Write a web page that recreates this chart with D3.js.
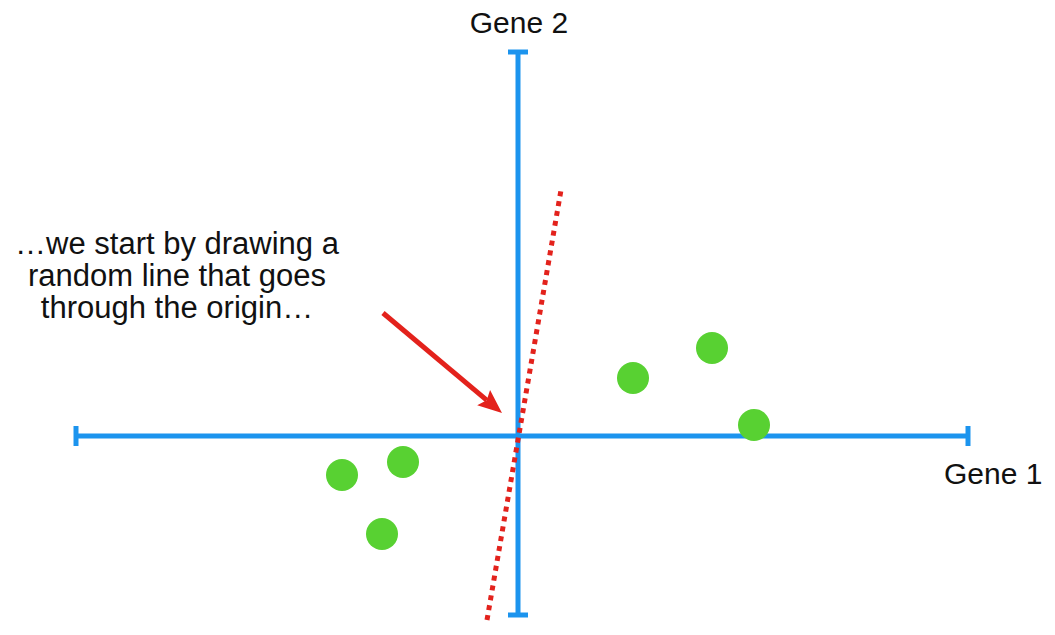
<!DOCTYPE html>
<html>
<head>
<meta charset="utf-8">
<script src="https://cdn.jsdelivr.net/npm/d3@7"></script>
<style>
  html, body { margin: 0; padding: 0; background: #fff; }
  svg { display: block; }
  text { font-family: "Helvetica Neue", "Liberation Sans", Arial, sans-serif; fill: #111; }
</style>
</head>
<body>
<svg id="chart" width="1055" height="635"></svg>
<script>
// ---- data (in gene units, origin at 0,0) ----
const xDomain = [-4.42, 4.50];
const yDomain = [-1.79, 3.84];
const axisLabels = ["Gene 1", "Gene 2"];
const pointX = [-1.76, -1.15, -1.36, 1.15, 1.94, 2.36];
const pointY = [-0.39, -0.26, -0.98, 0.58, 0.88, 0.11];
const lineX = [-0.31, 0.43];   // random line through the origin
const lineY = [-1.84, 2.46];
const arrowX = [-1.35, -0.16];
const arrowY = [1.23, 0.23];
const noteLines = ["\u2026we start by drawing a", "random line that goes", "through the origin\u2026"];

const svg = d3.select("#chart");
const x = d3.scaleLinear().domain(xDomain).range([76, 968]);
const y = d3.scaleLinear().domain(yDomain).range([615, 52]);

const blue = "#1c94ee";
const green = "#58d132";
const red = "#e3221c";

// axes
const g = svg.append("g");
const x0 = x(0), y0 = y(0);
g.append("line").attr("x1", x.range()[0]).attr("x2", x.range()[1])
  .attr("y1", y0).attr("y2", y0)
  .attr("stroke", blue).attr("stroke-width", 5);
g.append("line").attr("x1", x0).attr("x2", x0)
  .attr("y1", y.range()[0]).attr("y2", y.range()[1])
  .attr("stroke", blue).attr("stroke-width", 5);
// end caps
x.range().forEach(px => g.append("line").attr("x1", px).attr("x2", px)
  .attr("y1", y0 - 10).attr("y2", y0 + 10).attr("stroke", blue).attr("stroke-width", 5));
y.range().forEach(py => g.append("line").attr("x1", x0 - 10).attr("x2", x0 + 10)
  .attr("y1", py).attr("y2", py).attr("stroke", blue).attr("stroke-width", 5));

// axis labels
svg.append("text").attr("x", x.range()[1] - 24).attr("y", y0 + 48)
  .attr("font-size", 30).text(axisLabels[0]);
svg.append("text").attr("x", x0 + 1).attr("y", y.range()[1] - 19)
  .attr("text-anchor", "middle").attr("font-size", 30).text(axisLabels[1]);

// points
svg.selectAll("circle.pt").data(pointX.map((v, i) => [v, pointY[i]]))
  .enter().append("circle").attr("class", "pt")
  .attr("cx", d => x(d[0])).attr("cy", d => y(d[1])).attr("r", 16)
  .attr("fill", green);

// dotted red line
svg.append("line")
  .attr("x1", x(lineX[0])).attr("y1", y(lineY[0]))
  .attr("x2", x(lineX[1])).attr("y2", y(lineY[1]))
  .attr("stroke", red).attr("stroke-width", 5)
  .attr("stroke-dasharray", "5,5");

// arrow
const ax1 = x(arrowX[0]), ay1 = y(arrowY[0]);
const ax2 = x(arrowX[1]), ay2 = y(arrowY[1]);
const ang = Math.atan2(ay2 - ay1, ax2 - ax1);
const headLen = 24, headHalf = 10;
const bx = ax2 - headLen * Math.cos(ang), by = ay2 - headLen * Math.sin(ang);
svg.append("line").attr("x1", ax1).attr("y1", ay1)
  .attr("x2", bx + 4 * Math.cos(ang)).attr("y2", by + 4 * Math.sin(ang))
  .attr("stroke", red).attr("stroke-width", 5);
svg.append("path")
  .attr("d", `M${ax2},${ay2} L${bx - headHalf * Math.sin(ang)},${by + headHalf * Math.cos(ang)} L${bx + 4*Math.cos(ang)},${by + 4*Math.sin(ang)} L${bx + headHalf * Math.sin(ang)},${by - headHalf * Math.cos(ang)} Z`)
  .attr("fill", red);

// annotation
const note = svg.append("text").attr("font-size", 31).attr("text-anchor", "middle");
noteLines.forEach((t, i) => note.append("tspan").attr("x", 177).attr("y", 254 + i * 32).text(t));
</script>
</body>
</html>
